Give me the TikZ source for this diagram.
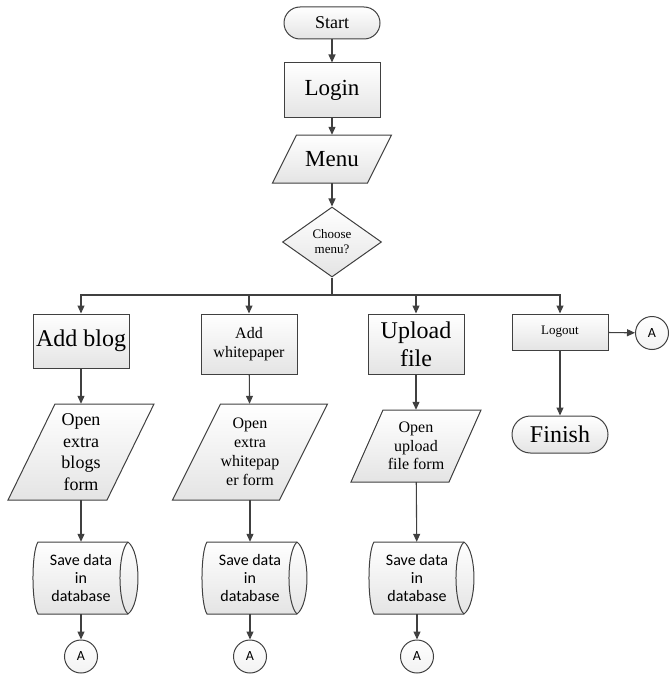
\documentclass[tikz,border=0pt]{standalone}
\usepackage{fontspec}
\setmainfont{Liberation Serif}
\newfontfamily\calib{Carlito}
\usetikzlibrary{shapes.geometric,arrows.meta,calc}
\pgfdeclarelayer{bg}
\pgfsetlayers{bg,main}
\definecolor{edge}{RGB}{64,64,64}
\definecolor{shadebot}{RGB}{228,228,228}
\tikzset{
  shp/.style={draw=edge, line width=1pt, top color=white, bottom color=shadebot},
  base/.style={shp, align=center, inner sep=0pt, text=black},
  procbox/.style={base, rectangle, minimum width=96pt},
  term/.style={base, rectangle, rounded corners=#1, minimum width=96pt},
  ghost/.style={align=center, inner sep=0pt, text=black},
  decide/.style={base, diamond, minimum width=99pt, minimum height=70pt},
  conn/.style={draw=edge, line width=1pt, top color=white, bottom color=white!95!black, circle, minimum size=33pt, inner sep=0pt, font=\calib\fontsize{14}{14}\selectfont},
  arr/.style={draw=edge, line width=1.1pt, -{Triangle[length=8pt,width=7pt]}},
  ln/.style={draw=edge, line width=1.1pt}
}
\newcommand\drawpara[4]{%
  \begin{pgfonlayer}{bg}
  \path[shp] ($(#1)+(-#2/2+#4/2,-#3/2)$) -- ($(#1)+(#2/2+#4/2,-#3/2)$) -- ($(#1)+(#2/2-#4/2,#3/2)$) -- ($(#1)+(-#2/2-#4/2,#3/2)$) -- cycle;
  \end{pgfonlayer}}
\newcommand\drawdrum[1]{%
  \begin{pgfonlayer}{bg}
  \path[shp] ($(#1)+(-43,-36)$) -- ($(#1)+(47,-36)$) .. controls ($(#1)+(60.3,-26)$) and ($(#1)+(60.3,26)$) .. ($(#1)+(47,36)$) -- ($(#1)+(-43,36)$) .. controls ($(#1)+(-49.7,26)$) and ($(#1)+(-49.7,-26)$) .. cycle;
  \draw[draw=edge, line width=1pt] ($(#1)+(47,-36)$) .. controls ($(#1)+(36.3,-26)$) and ($(#1)+(36.3,26)$) .. ($(#1)+(47,36)$);
  \end{pgfonlayer}}
\begin{document}
\begin{tikzpicture}[x=1pt,y=-1pt]
\useasboundingbox (0,0) rectangle (669,674);
% top column
\node[term=16pt, minimum height=32pt, font=\fontsize{18}{21}\selectfont] (start) at (332,23) {Start};
\node[procbox, minimum height=55pt, font=\fontsize{23}{27}\selectfont] (login) at (332,90.5) {Login};
\node[ghost, minimum width=95pt, minimum height=48pt, font=\fontsize{23}{27}\selectfont] (menu) at (332,159) {Menu};
\drawpara{menu}{95}{48}{24}
\node[decide, font=\fontsize{13}{15}\selectfont] (choose) at (332,242) {Choose\\menu?};
\coordinate (bus) at (332,295);
% second row
\node[procbox, minimum height=54pt, font=\fontsize{24}{28}\selectfont] (blog) at (81,341) {Add blog};
\node[procbox, minimum height=60pt, font=\fontsize{16}{19}\selectfont] (white) at (249,344) {Add\\whitepaper};
\node[procbox, minimum height=60pt, font=\fontsize{24}{28}\selectfont] (upload) at (416,344) {Upload\\file};
\node[procbox, minimum height=36pt, font=\fontsize{13}{15}\selectfont] (logout) at (560,332) {Logout};
\node[conn] (a4) at (652,333) {A};
\node[term=18.5pt, minimum height=37pt, font=\fontsize{24}{28}\selectfont] (finish) at (560,434.5) {Finish};
% parallelograms
\node[ghost, minimum width=99pt, minimum height=96pt, font=\fontsize{18}{21.5}\selectfont] (p1) at (81,452) {Open\\extra\\blogs\\form};
\drawpara{p1}{99}{96}{47}
\node[ghost, minimum width=107pt, minimum height=96pt, font=\fontsize{16}{19}\selectfont] (p2) at (250,452) {Open\\extra\\whitepap\\er form};
\drawpara{p2}{107}{96}{48}
\node[ghost, minimum width=98pt, minimum height=72pt, font=\fontsize{16}{18.5}\selectfont] (p3) at (416,446) {Open\\upload\\file form};
\drawpara{p3}{98}{72}{32}
% drums
\node[ghost, minimum width=96pt, minimum height=72pt, font=\calib\fontsize{16}{18.3}\selectfont] (d1) at (81,578) {Save data\\in\\database};
\drawdrum{d1}
\node[ghost, minimum width=96pt, minimum height=72pt, font=\calib\fontsize{16}{18.3}\selectfont] (d2) at (250,578) {Save data\\in\\database};
\drawdrum{d2}
\node[ghost, minimum width=96pt, minimum height=72pt, font=\calib\fontsize{16}{18.3}\selectfont] (d3) at (417,578) {Save data\\in\\database};
\drawdrum{d3}
% bottom connectors
\node[conn] (a1) at (81,656.5) {A};
\node[conn] (a2) at (250,656.5) {A};
\node[conn] (a3) at (417,656.5) {A};
% connectors
\draw[arr] (start) -- (login);
\draw[arr] (login) -- (menu);
\draw[arr] (menu) -- (choose);
\draw[ln] (choose.south) -- (bus);
\draw[arr] (bus) -| (blog.north);
\draw[arr] (bus) -| (white.north);
\draw[arr] (bus) -| (upload.north);
\draw[arr] (bus) -| (logout.north);
\draw[arr] (blog) -- (p1);
\draw[arr] (white) -- (p2);
\draw[arr] (upload) -- (p3);
\draw[arr] (p1) -- (d1);
\draw[arr] (p2) -- (d2);
\draw[arr] (p3) -- (d3);
\draw[arr] (d1) -- (a1);
\draw[arr] (d2) -- (a2);
\draw[arr] (d3) -- (a3);
\draw[arr] (logout) -- (finish);
\draw[arr] (logout) -- (a4);
\end{tikzpicture}
\end{document}
